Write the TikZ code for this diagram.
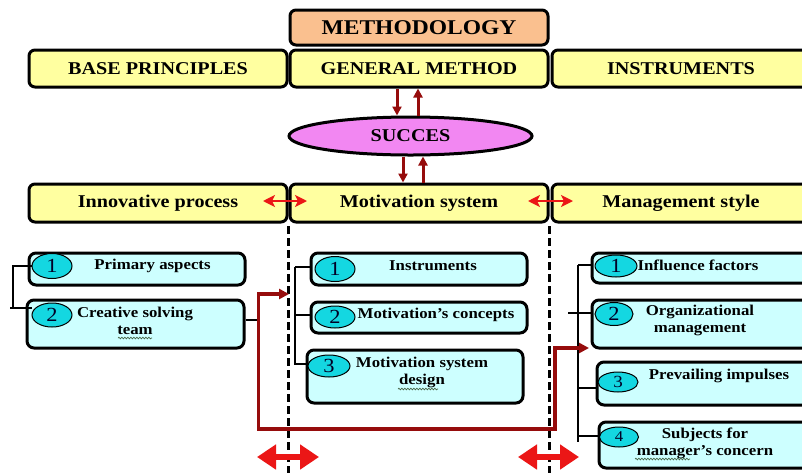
\documentclass[tikz,border=0pt]{standalone}
\usepackage{fontspec}
\setmainfont{Liberation Serif}[FakeStretch=1.12]
\usetikzlibrary{arrows.meta,shapes.geometric,decorations.pathmorphing}
\definecolor{ybox}{RGB}{255,255,160}
\definecolor{peach}{RGB}{250,192,143}
\definecolor{violetf}{RGB}{242,135,242}
\definecolor{cbox}{RGB}{205,255,255}
\definecolor{turq}{RGB}{20,215,225}
\definecolor{dred}{RGB}{150,12,12}
\definecolor{bred}{RGB}{235,22,22}
\definecolor{wavyc}{RGB}{70,100,70}
\tikzset{
  hdr/.style={draw, line width=3pt, rounded corners=6pt, fill=ybox, minimum width=258pt, minimum height=37pt, inner sep=0pt, font=\fontsize{18}{20}\selectfont\bfseries},
  sbox/.style={draw, line width=3pt, rounded corners=7pt, fill=cbox, inner sep=0pt},
  numell/.style={ellipse, draw, line width=1pt, fill=turq, inner sep=0pt, text=black!85!blue, font=\fontsize{20}{20}\selectfont},
  txt/.style={font=\fontsize{15}{17}\selectfont\bfseries, align=center, inner sep=0pt},
  darr/.style={draw=dred, line width=3pt, -{Triangle[length=9pt,width=9pt]}},
  rdbl/.style={draw=bred, line width=2.6pt, {Stealth[length=12pt,width=12pt,inset=3pt]}-{Stealth[length=12pt,width=12pt,inset=3pt]}},
  bigdbl/.style={draw=bred, line width=6.5pt, {Triangle[length=19pt,width=24pt]}-{Triangle[length=19pt,width=24pt]}},
  dline/.style={draw, line width=2.4pt, dash pattern=on 8pt off 4pt},
  brk/.style={draw, line width=1.3pt},
  wavy/.style={draw=wavyc, line width=0.7pt, decorate, decoration={snake, segment length=3pt, amplitude=0.8pt}},
}
\begin{document}
\begin{tikzpicture}[x=1pt,y=-1pt]
\useasboundingbox (0,0) rectangle (802,472);
\clip (0,0) rectangle (802,472);
\fill[white] (0,0) rectangle (802,472);

% dashed separators
\coordinate (d1t) at (288.5,226); \coordinate (d1b) at (288.5,474);
\coordinate (d2t) at (549.5,226); \coordinate (d2b) at (549.5,474);
\draw[dline] (d1t) -- (d1b);
\draw[dline] (d2t) -- (d2b);

% header rows
\node[hdr, fill=peach, minimum height=35pt, font=\fontsize{21}{22}\selectfont\bfseries] (meth) at (419,27.5) {METHODOLOGY};
\node[hdr] (base) at (158,68.5) {BASE PRINCIPLES};
\node[hdr] (gen) at (419,68.5) {GENERAL METHOD};
\node[hdr] (inst) at (681,68.5) {INSTRUMENTS};

\node[ellipse, draw, line width=3pt, fill=violetf, minimum width=243pt, minimum height=38pt, inner sep=0pt, font=\fontsize{18}{20}\selectfont\bfseries] (succ) at (410.5,136) {SUCCES};

\node[hdr, minimum height=38pt] (innov) at (158,203) {Innovative process};
\node[hdr, minimum height=38pt] (motiv) at (419,203) {Motivation system};
\node[hdr, minimum height=38pt] (mgmt) at (681,203) {Management style};

% arrows gen <-> succ <-> motiv
\draw[darr] ([xshift=-22pt]gen.south) -- ([xshift=-13.5pt]succ.north);
\draw[darr] ([xshift=7.5pt]succ.north) -- ([xshift=-1pt]gen.south);
\draw[darr] ([xshift=-7.5pt]succ.south) -- ([xshift=-16pt]motiv.north);
\draw[darr] ([xshift=4pt]motiv.north) -- ([xshift=12.5pt]succ.south);

% red double arrows between headers
\coordinate (ha1) at (263,201); \coordinate (ha2) at (307,201);
\coordinate (hb1) at (528,201); \coordinate (hb2) at (573,201);
\draw[rdbl] (ha1) -- (ha2);
\draw[rdbl] (hb1) -- (hb2);

% left column
\node[sbox, minimum width=216pt, minimum height=32pt] (L1) at (137,269) {};
\node[sbox, minimum width=217pt, minimum height=48pt] (L2) at (135.5,324) {};
\node[numell, minimum width=40pt, minimum height=25pt] (L1e) at (52,266) {1};
\node[numell, minimum width=40pt, minimum height=24pt] (L2e) at (52,315) {2};
\node[txt] (L1t) at (152.5,266) {Primary aspects};
\node[txt] (L2t) at (135,320.5) {Creative solving\\team};

% middle column
\node[sbox, minimum width=216pt, minimum height=32pt] (M1) at (419,269) {};
\node[sbox, minimum width=216pt, minimum height=31pt] (M2) at (419,317.5) {};
\node[sbox, minimum width=216pt, minimum height=53pt] (M3) at (415,376.5) {};
\node[numell, minimum width=40pt, minimum height=25pt] (M1e) at (335,269) {1};
\node[numell, minimum width=40pt, minimum height=22pt] (M2e) at (335,317) {2};
\node[numell, minimum width=42pt, minimum height=22pt] (M3e) at (329,366) {3};
\node[txt] (M1t) at (433,266) {Instruments};
\node[txt] (M2t) at (436,315) {Motivation’s concepts};
\node[txt] (M3t) at (422,372) {Motivation system\\design};

% right column
\node[sbox, minimum width=218pt, minimum height=30pt] (R1) at (701,268) {};
\node[sbox, minimum width=218pt, minimum height=48pt] (R2) at (701,324) {};
\node[sbox, minimum width=218pt, minimum height=43pt] (R3) at (706,383.5) {};
\node[sbox, minimum width=218pt, minimum height=46pt] (R4) at (708,445) {};
\node[numell, minimum width=42pt, minimum height=22pt] (R1e) at (616,266) {1};
\node[numell, minimum width=38pt, minimum height=23pt] (R2e) at (614,314) {2};
\node[numell, minimum width=40pt, minimum height=20pt, font=\fontsize{17}{17}\selectfont] (R3e) at (618,382) {3};
\node[numell, minimum width=39pt, minimum height=20pt, font=\fontsize{15}{15}\selectfont] (R4e) at (619,437) {4};
\node[txt] (R1t) at (698,265) {Influence factors};
\node[txt] (R2t) at (700,320.5) {Organizational\\management};
\node[txt] (R3t) at (719,376) {Prevailing impulses};
\node[txt] (R4t) at (705,443) {Subjects for\\manager’s concern};

% spell-check wavy underlines
\draw[wavy] (118,338) -- (152,338);
\draw[wavy] (398,389) -- (438,389);
\draw[wavy] (635,459) -- (690,459);

% brackets
\coordinate (lbt) at (13,266); \coordinate (lbb) at (13,308); \coordinate (lbl) at (10,308);
\draw[brk] (L1e.west) -- (lbt) -- (lbb);
\draw[brk] (lbl) -- (L2e.west |- lbl);

\coordinate (mbt) at (295,267); \coordinate (mbm) at (295,315); \coordinate (mbb) at (295,365);
\draw[brk] (mbt) -- (mbb);
\draw[brk] (mbt) -- (M1.west |- mbt);
\draw[brk] (mbm) -- (M2.west |- mbm);
\draw[brk] (295,364) -- (M3.west |- 0,364);

\coordinate (rbt) at (578,265); \coordinate (rbb) at (578,442);
\draw[brk] (rbt) -- (rbb);
\draw[brk] (rbt) -- (R1.west |- rbt);
\draw[brk] (568,313) -- (R2.west |- 0,313);
\draw[brk] (578,388) -- (R3.west |- 0,388);
\draw[brk] (578,436) -- (R4.west |- 0,436);

% red link
\coordinate (rpA) at (289,294); \coordinate (rpB) at (258.5,429);
\coordinate (rpC) at (555,348); \coordinate (rpD) at (589,348);
\draw[brk] ([yshift=4pt]L2.east) -- (rpB |- 0,320);
\draw[draw=dred, line width=3.4pt, line join=miter, {Triangle[length=10pt,width=10pt]}-{Triangle[length=10pt,width=10pt]}] (rpA) -| (rpB) -| (rpC) -- (rpD);

% big red double arrows at the bottom
\coordinate (ba1) at (257,457); \coordinate (ba2) at (319,457);
\coordinate (bb1) at (518,457); \coordinate (bb2) at (579,457);
\draw[bigdbl] (ba1) -- (ba2);
\draw[bigdbl] (bb1) -- (bb2);
\end{tikzpicture}
\end{document}
